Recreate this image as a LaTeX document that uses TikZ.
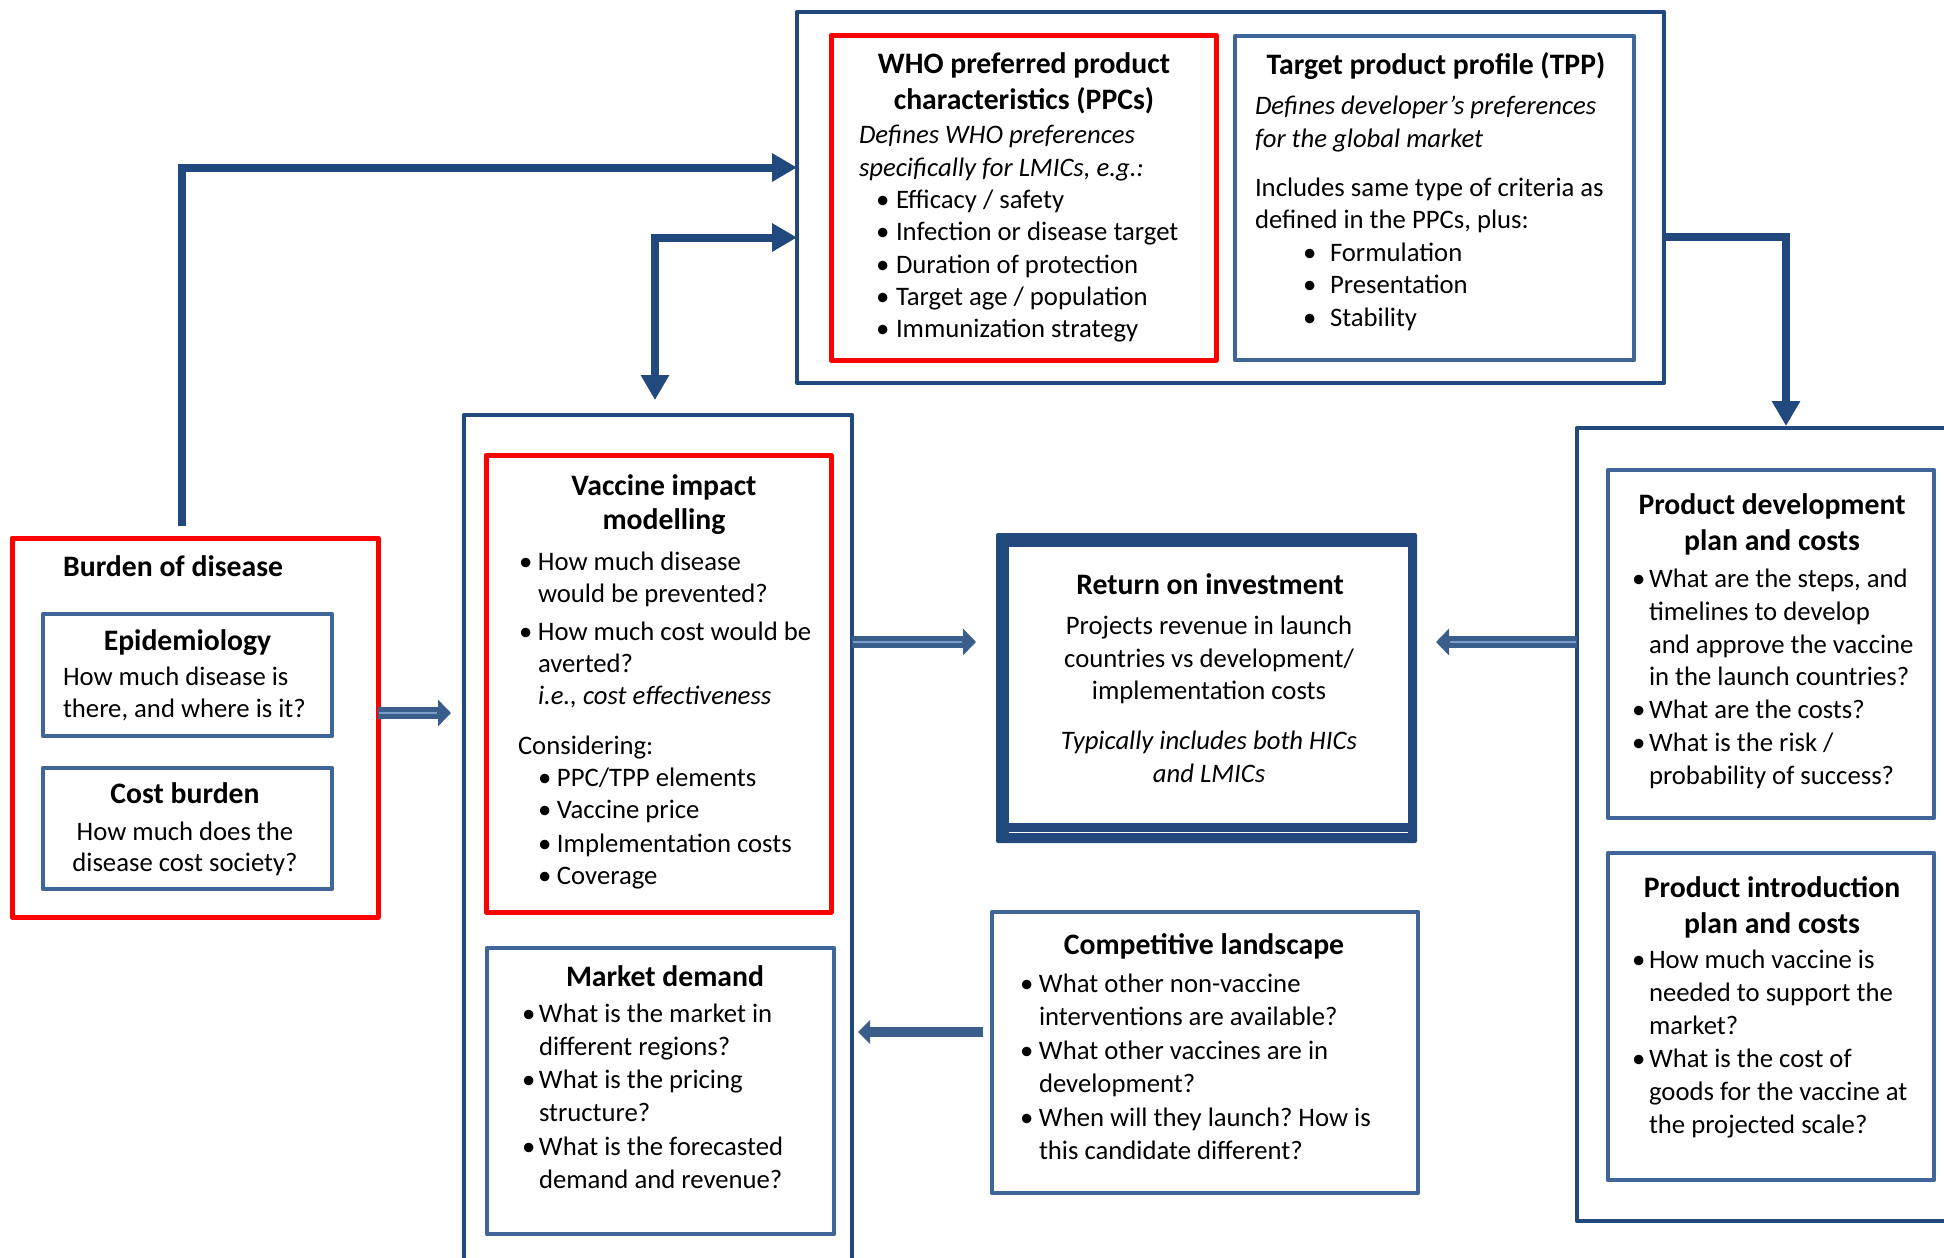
\documentclass[tikz,border=0pt]{standalone}
\usepackage{fontspec}
\setmainfont{Carlito}
\usetikzlibrary{arrows.meta,calc}
\definecolor{dkblue}{RGB}{33,73,125}
\definecolor{bxblue}{RGB}{64,101,152}
\definecolor{redc}{RGB}{255,0,0}
\definecolor{arrfill}{RGB}{58,94,140}
\definecolor{arrline}{RGB}{125,155,200}
\newcommand\bodyf{\fontsize{26.7}{32}\selectfont}
\newcommand\titlef{\fontsize{29.7}{36}\selectfont\bfseries}
\newcommand\bi[2]{\makebox[#2][l]{\hspace*{#1}\textbullet}}
\newcommand\ind[1]{\hspace*{#1}}
\frenchspacing
\begin{document}
\begin{tikzpicture}[x=1pt,y=-1pt,
  box/.style={rectangle, inner sep=0pt, outer sep=0pt, line join=round},
  outerb/.style={box, draw=dkblue, line width=4.5pt},
  redb/.style={box, draw=redc, line width=5pt},
  blueb/.style={box, draw=bxblue, line width=4.5pt},
  txt/.style={inner sep=0pt, outer sep=0pt, anchor=north west, align=left, font=\bodyf, execute at begin node=\frenchspacing\strut, yshift=-6pt},
  ctxt/.style={txt, anchor=north, align=center},
  ttl/.style={inner sep=0pt, outer sep=0pt, anchor=north, align=center, font=\titlef, execute at begin node=\strut, yshift=-7pt},
  ttlb/.style={inner sep=0pt, outer sep=0pt, anchor=base, font=\titlef},
  conn/.style={draw=dkblue, line width=8pt, -{Triangle[length=25pt,width=27pt]}},
  conn2/.style={draw=dkblue, line width=8pt, {Triangle[length=25pt,width=27pt]}-{Triangle[length=25pt,width=27pt]}},
  blockarr/.style={draw=arrfill, line width=12pt, -{Triangle[length=13pt,width=26pt]},
     postaction={draw=arrline, line width=1.5pt, -, shorten >=14pt, shorten <=1pt}},
  blockarrs/.style={draw=arrfill, line width=10pt, -{Triangle[length=12pt,width=23pt]}}
]
\path[use as bounding box, fill=white] (0,0) rectangle (1944,1258);
\clip (0,0) rectangle (1944,1258);

% ---------- top group ----------
\node[outerb, minimum width=867pt, minimum height=371pt] (topbox) at (1230.5,197.5) {};
\node[redb, minimum width=385pt, minimum height=325pt] (who) at (1023.5,197.5) {};
\node[blueb, minimum width=399pt, minimum height=324pt] (tpp) at (1434.5,198) {};

\node[ttl] (whot) at (1024,45.8) {WHO preferred product\\characteristics (PPCs)};
\node[txt, font=\fontsize{26.7}{32.3}\selectfont] (whob) at (859,119.4)
 {\textit{Defines WHO preferences}\\\textit{specifically for LMICs, e.g.:}\\
  \bi{17pt}{37pt}Efficacy / safety\\\bi{17pt}{37pt}Infection or disease target\\
  \bi{17pt}{37pt}Duration of protection\\\bi{17pt}{37pt}Target age / population\\
  \bi{17pt}{37pt}Immunization strategy};

\node[ttlb] (tppt) at (1436,74) {Target product profile (TPP)};
\node[txt, font=\fontsize{26.7}{32.5}\selectfont] (tppb) at (1255,90.4)
 {\textit{Defines developer’s preferences}\\\textit{for the global market}\\[16.5pt]
  Includes same type of criteria as\\defined in the PPCs, plus:\\
  \bi{48pt}{75pt}Formulation\\\bi{48pt}{75pt}Presentation\\\bi{48pt}{75pt}Stability};

% ---------- burden of disease ----------
\node[redb, minimum width=366pt, minimum height=379pt] (burden) at (195,727.5) {};
\node[inner sep=0pt, anchor=base west, font=\titlef] (burdent) at (63,576) {Burden of disease};
\node[blueb, minimum width=289pt, minimum height=122pt] (epi) at (187.5,675) {};
\node[ttlb] (epit) at (187.5,650) {Epidemiology};
\node[txt] (epib) at (63,660.6) {How much disease is\\there, and where is it?};
\node[blueb, minimum width=289pt, minimum height=121pt] (cost) at (187.5,828.5) {};
\node[ttlb] (costt) at (185,803) {Cost burden};
\node[ctxt, font=\fontsize{26.7}{31}\selectfont] (costb) at (185,816.3) {How much does the\\disease cost society?};

% ---------- middle column ----------
\node[outerb, minimum width=388pt, minimum height=885pt] (midbox) at (658,857.5) {};
\node[redb, minimum width=345pt, minimum height=457pt] (vim) at (658.5,683.5) {};
\node[ttl, font=\fontsize{29.7}{34}\selectfont\bfseries] (vimt) at (664,467.7) {Vaccine impact\\modelling};
\node[txt] (vimb) at (518,545.6)
 {\bi{1pt}{20pt}How much disease\\\ind{20pt}would be prevented?\\[6pt]
  \bi{1pt}{20pt}How much cost would be\\\ind{20pt}averted?\\\ind{20pt}\textit{i.e., cost effectiveness}\\[18pt]
  Considering:\\\bi{20pt}{39pt}PPC/TPP elements\\\bi{20pt}{39pt}Vaccine price\\[2pt]
  \bi{20pt}{39pt}Implementation costs\\\bi{20pt}{39pt}Coverage};

\node[blueb, minimum width=347pt, minimum height=286pt] (market) at (660.5,1091) {};
\node[ttlb] (markett) at (665,986) {Market demand};
\node[txt, font=\fontsize{26.7}{33.2}\selectfont] (marketb) at (522,997.8)
 {\bi{0pt}{17pt}What is the market in\\\ind{17pt}different regions?\\
  \bi{0pt}{17pt}What is the pricing\\\ind{17pt}structure?\\
  \bi{0pt}{17pt}What is the forecasted\\\ind{17pt}demand and revenue?};

% ---------- return on investment ----------
\node[box, fill=dkblue, minimum width=421pt, minimum height=310pt, rounded corners=2pt] (roi) at (1206.5,688) {};
\fill[white] (1009,547) rectangle (1408,823);
\draw[white, line width=1.2pt] (1009,832.5) -- (1408,832.5);
\node[ttlb] (roit) at (1210,594) {Return on investment};
\node[ctxt, font=\fontsize{26.7}{32.5}\selectfont] (roib) at (1209,610.25)
 {Projects revenue in launch\\countries vs development/\\implementation costs\\[17.5pt]
  \textit{Typically includes both HICs}\\\textit{and LMICs}};

% ---------- competitive landscape ----------
\node[blueb, minimum width=426pt, minimum height=281pt] (comp) at (1205,1052.5) {};
\node[ttlb] (compt) at (1204,954) {Competitive landscape};
\node[txt, font=\fontsize{26.7}{32.5}\selectfont] (compb) at (1020,968.25)
 {\bi{0pt}{19pt}What other non-vaccine\\\ind{19pt}interventions are available?\\[2pt]
  \bi{0pt}{19pt}What other vaccines are in\\\ind{19pt}development?\\[2pt]
  \bi{0pt}{19pt}When will they launch? How is\\\ind{19pt}this candidate different?};

% ---------- right column ----------
\node[outerb, minimum width=423pt, minimum height=793pt] (rightbox) at (1788.5,824.5) {};
\node[blueb, minimum width=326pt, minimum height=348pt] (pdev) at (1771,644) {};
\node[ttl] (pdevt) at (1772,486.8) {Product development\\plan and costs};
\node[txt, font=\fontsize{26.7}{32.8}\selectfont] (pdevb) at (1632,563)
 {\bi{0pt}{17pt}What are the steps, and\\\ind{17pt}timelines to develop\\
  \ind{17pt}and approve the vaccine\\\ind{17pt}in the launch countries?\\
  \bi{0pt}{17pt}What are the costs?\\\bi{0pt}{17pt}What is the risk /\\
  \ind{17pt}probability of success?};
\node[blueb, minimum width=326pt, minimum height=327pt] (pintro) at (1771,1016.5) {};
\node[ttl] (pintrot) at (1772,869.8) {Product introduction\\plan and costs};
\node[txt, font=\fontsize{26.7}{33}\selectfont] (pintrob) at (1632,943.9)
 {\bi{0pt}{17pt}How much vaccine is\\\ind{17pt}needed to support the\\\ind{17pt}market?\\
  \bi{0pt}{17pt}What is the cost of\\\ind{17pt}goods for the vaccine at\\\ind{17pt}the projected scale?};

% ---------- connectors ----------
\draw[conn] ([xshift=-13pt,yshift=12pt]burden.north) |- ([yshift=30pt]topbox.west);
\draw[conn2] ([xshift=-3pt,yshift=15pt]midbox.north) |- ([yshift=-40pt]topbox.west);
\draw[conn] ([yshift=-39pt]topbox.east) -| ([xshift=-2.5pt,yshift=2pt]rightbox.north);

\path ([yshift=14.5pt]burden.east) coordinate (ba);
\draw[blockarr] (ba) -- ([xshift=-13pt]midbox.west |- ba);
\path ([xshift=-20pt,yshift=46pt]roi.west) coordinate (ra);
\draw[blockarr] (midbox.east |- ra) -- (ra);
\path ([xshift=19pt,yshift=46pt]roi.east) coordinate (rb);
\draw[blockarr] (rightbox.west |- rb) -- (rb);
\path ([xshift=-9pt,yshift=20.5pt]comp.west) coordinate (ca);
\draw[blockarrs] (ca) -- ([xshift=6pt]midbox.east |- ca);
\end{tikzpicture}
\end{document}
